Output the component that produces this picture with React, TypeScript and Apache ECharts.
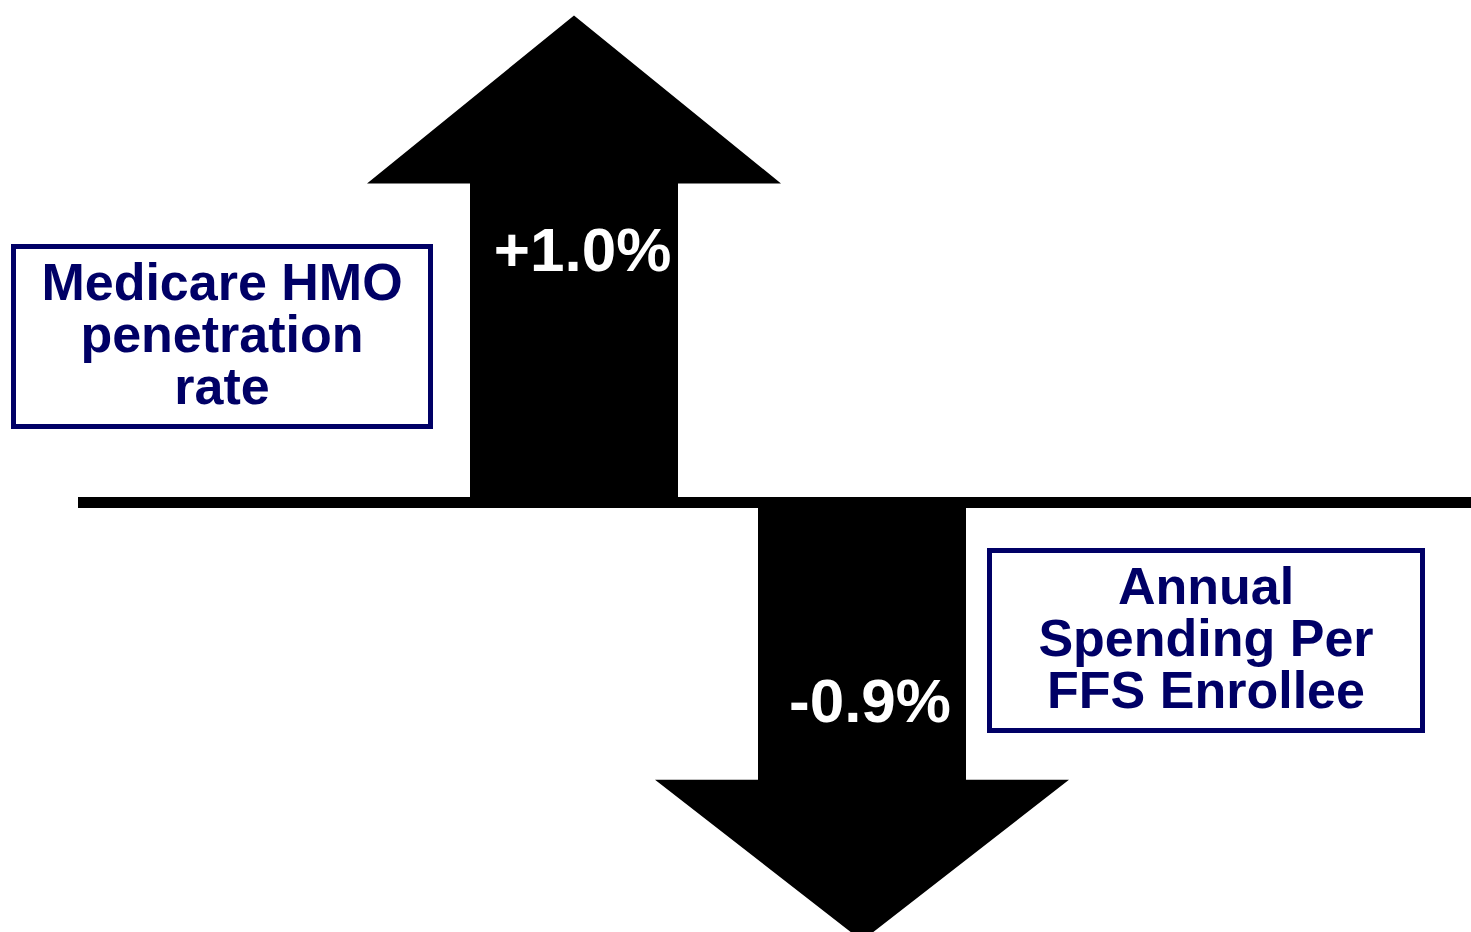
import React, { useEffect, useRef } from "react";
import * as echarts from "echarts";

// ---- data ----
const categories = ["Medicare HMO penetration rate", "Annual Spending Per FFS Enrollee"];
const changes = [1.0, -0.9];
const boxLabels = [
  ["Medicare HMO", "penetration", "rate"],
  ["Annual", "Spending Per", "FFS Enrollee"],
];

const NAVY = "#000066";
const FONT = '"Liberation Sans", Arial, Helvetica, sans-serif';

const W = 1471;
const H = 932;
const BASE_Y = 502.5;
const PX_PER_UNIT = 487;

export default function App() {
  const ref = useRef<HTMLDivElement>(null);

  useEffect(() => {
    if (!ref.current) return;
    const chart = echarts.init(ref.current, undefined, { renderer: "svg" });

    const yMax = BASE_Y / PX_PER_UNIT;
    const yMin = -(H - BASE_Y) / PX_PER_UNIT;

    const headHeights = [168, 161];
    const labelOffsets = [
      [8.5, -253],
      [8, 197.5],
    ];

    const boxText = (lines: string[], cx: number, cy: number) =>
      lines.map((line, k) => ({
        type: "text",
        style: {
          text: line,
          x: cx,
          y: cy + (k - (lines.length - 1) / 2) * 52,
          fill: NAVY,
          fontSize: 52,
          fontWeight: "bold",
          fontFamily: FONT,
          align: "center",
          verticalAlign: "middle",
        },
      }));

    const option: any = {
      animation: false,
      backgroundColor: "#ffffff",
      grid: { left: 430, right: W - 1006, top: 0, bottom: 0 },
      xAxis: {
        type: "category",
        data: categories,
        show: false,
      },
      yAxis: {
        type: "value",
        min: yMin,
        max: yMax,
        show: false,
        splitLine: { show: false },
      },
      series: [
        {
          type: "custom",
          clip: false,
          data: changes.map((v, i) => [i, v]),
          renderItem: (params: any, api: any) => {
            const i = api.value(0);
            const v = api.value(1);
            const base = api.coord([i, 0]);
            const tip = api.coord([i, v]);
            const dir = v >= 0 ? -1 : 1;
            const headH = headHeights[i];
            const shaftHalf = 104;
            const headHalf = 207;
            const cx = base[0];
            const by = base[1];
            const ny = tip[1] - dir * headH;
            const txt = (v > 0 ? "+" : "") + v.toFixed(1) + "%";
            return {
              type: "group",
              children: [
                {
                  type: "polygon",
                  shape: {
                    points: [
                      [cx - shaftHalf, by],
                      [cx - shaftHalf, ny],
                      [cx - headHalf, ny],
                      [cx, tip[1]],
                      [cx + headHalf, ny],
                      [cx + shaftHalf, ny],
                      [cx + shaftHalf, by],
                    ],
                  },
                  style: { fill: "#000000" },
                },
                {
                  type: "text",
                  style: {
                    text: txt,
                    x: cx + labelOffsets[i][0],
                    y: by + labelOffsets[i][1],
                    fill: "#ffffff",
                    fontSize: 62,
                    fontWeight: "bold",
                    fontFamily: FONT,
                    align: "center",
                    verticalAlign: "middle",
                  },
                },
              ],
            };
          },
        },
      ],
      graphic: [
        {
          type: "rect",
          shape: { x: 78, y: 497, width: W - 78, height: 11 },
          style: { fill: "#000000" },
          z: 0,
        },
        {
          type: "rect",
          shape: { x: 13.5, y: 246.5, width: 417, height: 180 },
          style: { fill: "#ffffff", stroke: NAVY, lineWidth: 5 },
        },
        ...boxText(boxLabels[0], 222, 334),
        {
          type: "rect",
          shape: { x: 989.5, y: 550.5, width: 433, height: 180 },
          style: { fill: "#ffffff", stroke: NAVY, lineWidth: 5 },
        },
        ...boxText(boxLabels[1], 1206, 638),
      ],
    };

    chart.setOption(option);
    return () => chart.dispose();
  }, []);

  return (
    <div
      ref={ref}
      style={{ position: "absolute", left: 0, top: 0, width: W, height: H, background: "#fff" }}
    />
  );
}
